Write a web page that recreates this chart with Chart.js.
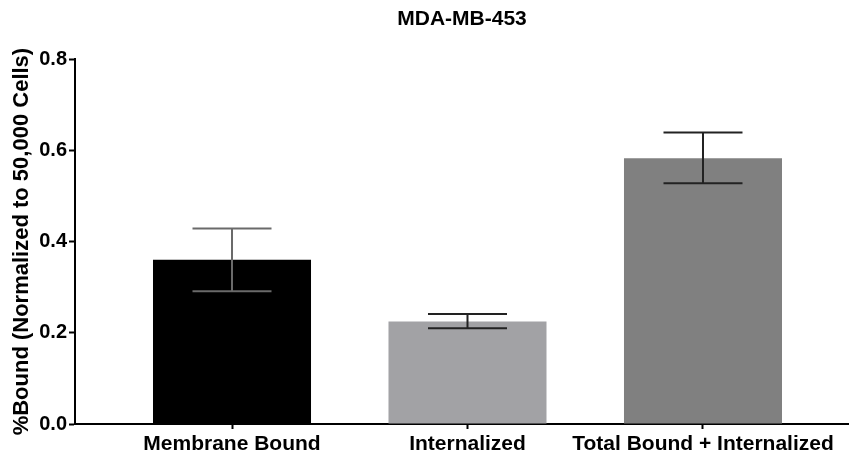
<!DOCTYPE html>
<html>
<head>
<meta charset="utf-8">
<script src="https://cdn.jsdelivr.net/npm/chart.js@4/dist/chart.umd.min.js"></script>
<style>
  html, body { margin: 0; padding: 0; background: #fff; }
  #wrap { width: 849px; height: 455px; }
</style>
</head>
<body>
<div id="wrap"><canvas id="chart" width="849" height="455"></canvas></div>
<script>
// данные графика
const categories = ['Membrane Bound', 'Internalized', 'Total Bound + Internalized'];
const means = [0.360, 0.225, 0.583];
const errLow = [0.291, 0.210, 0.528];
const errHigh = [0.429, 0.241, 0.639];
const yTicks = [0, 0.2, 0.4, 0.6, 0.8];

const barColors = ['#000000', '#a2a2a5', '#808080'];
const errColors = ['#6a6a6a', '#222222', '#222222'];
const FONT = "'Liberation Sans', Arial, sans-serif";

// усы ошибок
const errorBars = {
    id: 'errorBars',
    afterDatasetsDraw(chart) {
        const { ctx, scales: { y } } = chart;
        const meta = chart.getDatasetMeta(0);
        ctx.save();
        ctx.lineWidth = 2;
        meta.data.forEach((bar, i) => {
            const cx = bar.x;
            const top = y.getPixelForValue(errHigh[i]);
            const bot = y.getPixelForValue(errLow[i]);
            const half = bar.width / 4;
            ctx.strokeStyle = errColors[i];
            ctx.beginPath();
            ctx.moveTo(cx, top); ctx.lineTo(cx, bot);
            ctx.moveTo(cx - half, top); ctx.lineTo(cx + half, top);
            ctx.moveTo(cx - half, bot); ctx.lineTo(cx + half, bot);
            ctx.stroke();
        });
        ctx.restore();
    }
};

new Chart(document.getElementById('chart'), {
    type: 'bar',
    data: {
        datasets: [{
            data: means.map((v, i) => ({ x: i, y: v })),
            backgroundColor: barColors,
            borderWidth: 0,
            barPercentage: 0.671,
            categoryPercentage: 1
        }]
    },
    options: {
        responsive: false,
        animation: false,
        layout: { padding: { left: 0, right: 0, top: 0, bottom: 0 } },
        plugins: {
            legend: { display: false },
            tooltip: { enabled: false },
            title: {
                display: true,
                text: 'MDA-MB-453',
                fullSize: false,
                color: '#000',
                font: { family: FONT, size: 21, weight: 'bold' },
                padding: { top: 7, bottom: 27 }
            }
        },
        scales: {
            x: {
                type: 'linear',
                offset: false,
                min: -0.6667,
                max: 2.62,
                afterBuildTicks: s => { s.ticks = categories.map((_, i) => ({ value: i })); },
                afterFit: s => { s.height = 31; },
                ticks: {
                    callback: v => categories[v],
                    color: '#000',
                    padding: 3,
                    maxRotation: 0,
                    autoSkip: false,
                    font: { family: FONT, size: 21, weight: 'bold' }
                },
                grid: { offset: false, drawOnChartArea: false, drawTicks: true, tickLength: 5, tickColor: '#000', tickWidth: 2 },
                border: { display: true, color: '#000', width: 2 }
            },
            y: {
                min: 0,
                max: 0.8,
                afterBuildTicks: s => { s.ticks = yTicks.map(v => ({ value: v })); },
                afterFit: s => { s.width = 75; },
                ticks: {
                    callback: v => v.toFixed(1),
                    color: '#000',
                    padding: 2,
                    font: { family: FONT, size: 20, weight: 'bold' }
                },
                grid: { drawOnChartArea: false, drawTicks: true, tickLength: 6, tickColor: '#000', tickWidth: 2 },
                border: { display: true, color: '#000', width: 2 },
                title: {
                    display: true,
                    text: '%Bound (Normalized to 50,000 Cells)',
                    color: '#000',
                    padding: { top: 9, bottom: 0 },
                    font: { family: FONT, size: 22, weight: 'bold' }
                }
            }
        }
    },
    plugins: [errorBars]
});
</script>
</body>
</html>
